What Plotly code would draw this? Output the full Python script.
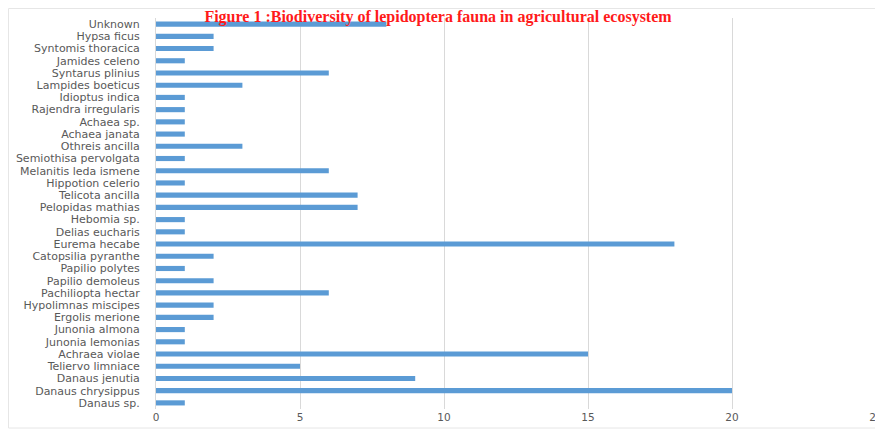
import plotly.graph_objects as go

species = [
    "Danaus sp.", "Danaus chrysippus", "Danaus jenutia", "Teliervo limniace",
    "Achraea violae", "Junonia lemonias", "Junonia almona", "Ergolis merione",
    "Hypolimnas miscipes", "Pachiliopta hectar", "Papilio demoleus",
    "Papilio polytes", "Catopsilia pyranthe", "Eurema hecabe", "Delias eucharis",
    "Hebomia sp.", "Pelopidas mathias", "Telicota ancilla", "Hippotion celerio",
    "Melanitis leda ismene", "Semiothisa pervolgata", "Othreis ancilla",
    "Achaea janata", "Achaea sp.", "Rajendra irregularis", "Idioptus indica",
    "Lampides boeticus", "Syntarus plinius", "Jamides celeno",
    "Syntomis thoracica", "Hypsa ficus", "Unknown",
]
counts = [1, 20, 9, 5, 15, 1, 1, 2, 2, 6, 2, 1, 2, 18, 1, 1, 7, 7, 1, 6, 1, 3,
          1, 1, 1, 1, 3, 6, 1, 2, 2, 8]
x_ticks = [0, 5, 10, 15, 20, 25]

W, H = 883, 430
OFF = 8  # page body margin offset
ml, mr, mt, mb = 156 - OFF, W - 876 + OFF, 18 - OFF, H - 409 + OFF

fig = go.Figure(go.Bar(
    x=counts, y=species, orientation="h",
    marker=dict(color="#5B9BD5", line=dict(width=0)),
))

pw = W - ml - mr
ph = H - mt - mb
# outer border rectangle in paper coords
bx0, bx1 = 0.5, 873
by0, by1 = 0.5, 420
x0 = (bx0 - ml) / pw
x1 = (bx1 - ml) / pw
y1 = 1 + (mt - by0) / ph
y0 = 1 - (by1 - mt) / ph

fig.update_layout(
    width=W, height=H,
    margin=dict(l=ml, r=mr, t=mt, b=mb, pad=0, autoexpand=False),
    paper_bgcolor="white", plot_bgcolor="white",
    showlegend=False,
    bargap=0.58,
    title=dict(
        text="<b>Figure 1 :Biodiversity of lepidoptera fauna in agricultural ecosystem</b>",
        font=dict(family="Liberation Serif", size=16, color="#FF1A1A"),
        x=(438 - OFF) / W, xanchor="center", xref="container",
        y=1 - (16.5 - OFF) / H, yanchor="middle", yref="container",
    ),
    xaxis=dict(
        range=[0, 25], tickvals=x_ticks, automargin=False,
        showgrid=True, gridcolor="#D9D9D9", gridwidth=1,
        zeroline=False, showline=False,
        tickfont=dict(family="DejaVu Sans", size=10.5, color="#595959"),
        ticks="",
    ),
    yaxis=dict(
        categoryorder="array", categoryarray=species, automargin=False,
        tickmode="linear", tick0=0, dtick=1,
        range=[-0.5, len(species) - 0.5],
        showgrid=False, zeroline=False,
        showline=True, linecolor="#D9D9D9", linewidth=1,
        tickfont=dict(family="DejaVu Sans", size=11, color="#595959"),
        ticks="", ticklabelstandoff=13,
    ),
    shapes=[dict(
        type="rect", xref="paper", yref="paper",
        x0=x0, x1=x1, y0=y0, y1=y1,
        line=dict(color="#E6E6E6", width=1), layer="below",
    )],
)

fig.write_html("out.html")
